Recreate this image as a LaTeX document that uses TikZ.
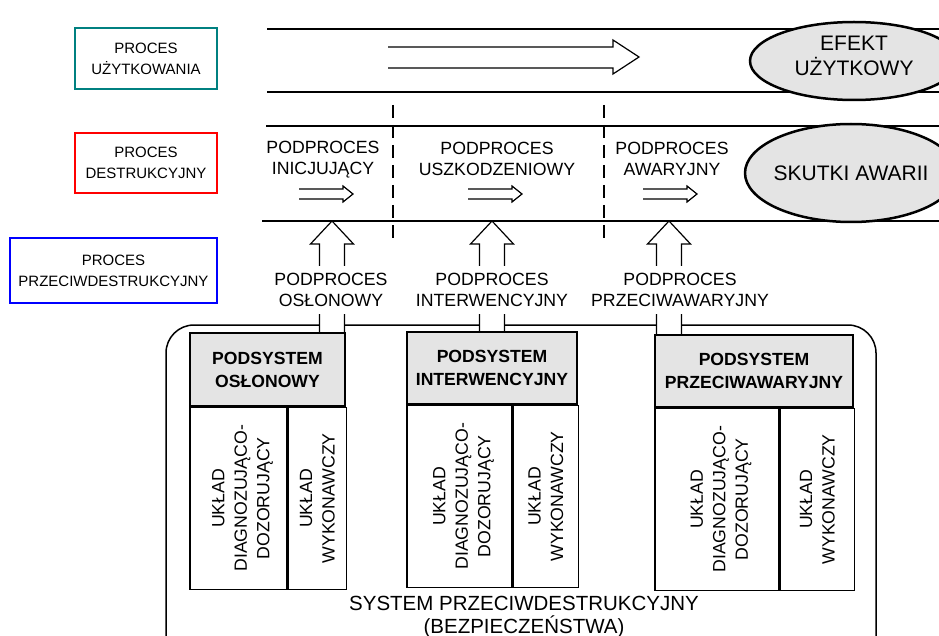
\documentclass[tikz,border=0pt]{standalone}
\usepackage{fontspec}
\setmainfont{Liberation Sans}
\usetikzlibrary{shapes.geometric}

\definecolor{procteal}{RGB}{0,128,128}
\definecolor{procred}{RGB}{255,0,0}
\definecolor{procblue}{RGB}{0,0,255}
\definecolor{lightgr}{RGB}{228,228,228}

\tikzset{
  procbox/.style={draw, line width=2.6pt, minimum height=61pt, align=center,
    font=\fontsize{15}{21}\selectfont, inner sep=0pt},
  band/.style={line width=1.6pt},
  phase/.style={line width=2.6pt, dash pattern=on 13pt off 7pt},
  goal/.style={ellipse, draw, line width=2.5pt, fill=lightgr, align=center,
    inner sep=0pt, font=\fontsize{21}{25}\selectfont},
  sublbl/.style={align=center, font=\fontsize{17.7}{21}\selectfont, inner sep=0pt},
  hdr/.style={draw, line width=1.3pt, fill=lightgr, minimum height=72pt, align=center,
    font=\bfseries\fontsize{17.6}{23}\selectfont, inner sep=0pt},
  cell/.style={draw, line width=1.3pt, minimum height=182pt, anchor=north west, inner sep=0pt},
  vtxt/.style={rotate=90, align=center, font=\fontsize{17.7}{22.5}\selectfont, inner sep=0pt},
  fatarrow/.style={draw, line width=1.2pt, fill=white, line join=miter},
  thinarrow/.style={line width=1.2pt, line join=miter},
}

\begin{document}
\begin{tikzpicture}[x=1pt, y=-1pt]
    \useasboundingbox (0,0) rectangle (939,636);
    \clip (0,0) rectangle (939,636);

    % procesy
    \node[procbox, draw=procteal, minimum width=142pt] (uzyt) at (146,58.5) {PROCES\\UŻYTKOWANIA};
    \node[procbox, draw=procred, minimum width=142pt, minimum height=60pt] (destr) at (146,163) {PROCES\\DESTRUKCYJNY};
    \node[procbox, draw=procblue, minimum width=207pt, minimum height=65pt] (przec) at (113.5,270.5) {PROCES\\PRZECIWDESTRUKCYJNY};

    % pasma
    \draw[band] (267,29) -- (939,29);
    \draw[band] (267,92) -- (939,92);
    \draw[band] (266,126) -- (939,126);
    \draw[band] (262,221) -- (939,221);
    \draw[phase] (393,105) -- (393,238);
    \draw[phase] (604,105) -- (604,238);

    \draw[thinarrow] (388,47) -- (613,47) -- (613,40) -- (639,57) -- (613,74) -- (613,68) -- (388,68);
    \foreach \x in {299,468,643}
      \draw[thinarrow] (\x,189) -- ++(44,0) -- ++(0,-3) -- ++(10,8) -- ++(-10,8) -- ++(0,-3) -- ++(-44,0);

    \node[goal, minimum width=208pt, minimum height=78pt, text depth=10pt] (efekt) at (854,61) {EFEKT\\UŻYTKOWY};
    \node[goal, minimum width=212pt, minimum height=98pt, inner xsep=-30pt] (skutki) at (851,173) {SKUTKI AWARII};

    \node[sublbl] (podIni) at (323,160) {PODPROCES\\INICJUJĄCY};
    \node[sublbl] (podUsz) at (497,159) {PODPROCES\\USZKODZENIOWY};
    \node[sublbl] (podAwa) at (672,159) {PODPROCES\\AWARYJNY};

    % system
    \draw[line width=1.5pt, rounded corners=28pt] (166,325) rectangle (876,700);

    \coordinate (tOsl) at (332,221);
    \coordinate (tInt) at (492,221);
    \coordinate (tPrz) at (669,221);
    \draw[fatarrow] (tOsl) -- ++(21.5,23) -- ++(-9,0) -- ++(0,89) -- ++(-25,0) -- ++(0,-89) -- ++(-9,0) -- cycle;
    \draw[fatarrow] (tInt) -- ++(21.5,23) -- ++(-9,0) -- ++(0,88) -- ++(-25,0) -- ++(0,-88) -- ++(-9,0) -- cycle;
    \draw[fatarrow] (tPrz) -- ++(21.5,23) -- ++(-9,0) -- ++(0,91) -- ++(-25,0) -- ++(0,-91) -- ++(-9,0) -- cycle;

    \node[sublbl, fill=white, inner ysep=7pt, inner xsep=2pt] (podOsl) at (331,290) {PODPROCES\\OSŁONOWY};
    \node[sublbl, fill=white, inner ysep=7pt, inner xsep=2pt] (podInt) at (492,290) {PODPROCES\\INTERWENCYJNY};
    \node[sublbl, fill=white, inner ysep=7pt, inner xsep=2pt] (podPrz) at (680,290) {PODPROCES\\PRZECIWAWARYJNY};

    % podsystemy
    \node[hdr, minimum width=155pt, minimum height=73pt] (hOsl) at (267.5,369.5) {PODSYSTEM\\OSŁONOWY};
    \node[cell, minimum width=97pt] (dOsl) at (hOsl.south west) {};
    \node[cell, minimum width=58pt] (wOsl) at (dOsl.north east) {};
    \node[vtxt] (tdOsl) at ([xshift=4pt]dOsl.center) {UKŁAD\\DIAGNOZUJĄCO-\\DOZORUJĄCY};
    \node[vtxt] (twOsl) at (wOsl.center) {UKŁAD\\WYKONAWCZY};

    \node[hdr, minimum width=170pt] (hInt) at (492,368) {PODSYSTEM\\INTERWENCYJNY};
    \node[cell, minimum width=105pt] (dInt) at (hInt.south west) {};
    \node[cell, minimum width=65pt] (wInt) at (dInt.north east) {};
    \node[vtxt] (tdInt) at ([xshift=4pt]dInt.center) {UKŁAD\\DIAGNOZUJĄCO-\\DOZORUJĄCY};
    \node[vtxt] (twInt) at (wInt.center) {UKŁAD\\WYKONAWCZY};

    \node[hdr, minimum width=198pt] (hPrz) at (754,371) {PODSYSTEM\\PRZECIWAWARYJNY};
    \node[cell, minimum width=124pt] (dPrz) at (hPrz.south west) {};
    \node[cell, minimum width=74pt] (wPrz) at (dPrz.north east) {};
    \node[vtxt] (tdPrz) at ([xshift=4pt]dPrz.center) {UKŁAD\\DIAGNOZUJĄCO-\\DOZORUJĄCY};
    \node[vtxt] (twPrz) at (wPrz.center) {UKŁAD\\WYKONAWCZY};

    \node[align=center, anchor=north, inner sep=0pt, font=\fontsize{20.5}{23}\selectfont] (sysName) at (524,596)
      {SYSTEM PRZECIWDESTRUKCYJNY\\(BEZPIECZEŃSTWA)};
\end{tikzpicture}
\end{document}
